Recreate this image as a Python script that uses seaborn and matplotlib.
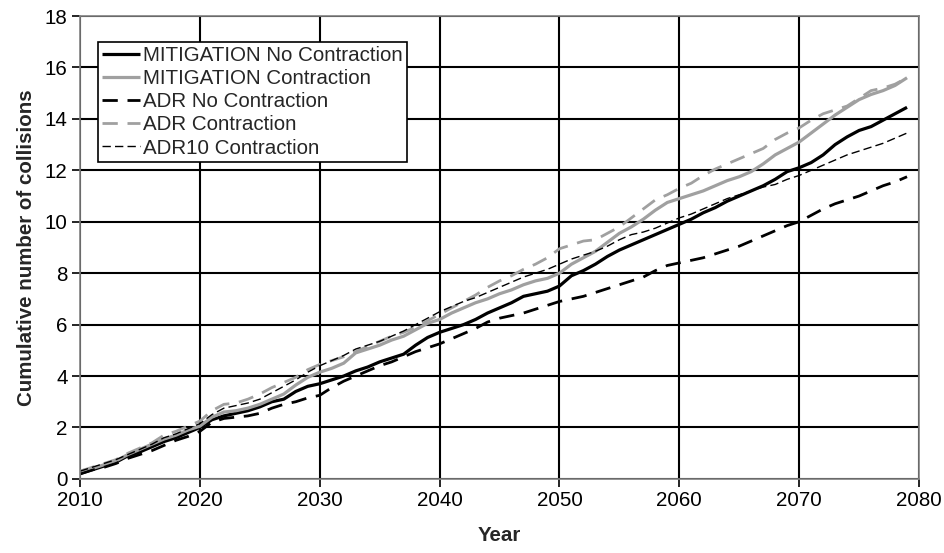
import matplotlib
matplotlib.use("Agg")
import matplotlib.pyplot as plt
import pandas as pd
import seaborn as sns

years = list(range(2010, 2080))

mitigation_no_contraction = [
    0.20, 0.35, 0.50, 0.65, 0.90, 1.05, 1.25, 1.45, 1.60, 1.80,
    2.00, 2.30, 2.45, 2.55, 2.65, 2.80, 3.00, 3.10, 3.40, 3.60,
    3.70, 3.85, 4.00, 4.20, 4.35, 4.55, 4.70, 4.85, 5.20, 5.50,
    5.70, 5.85, 6.00, 6.20, 6.45, 6.65, 6.85, 7.10, 7.20, 7.30,
    7.50, 7.90, 8.10, 8.35, 8.65, 8.90, 9.10, 9.30, 9.50, 9.70,
    9.90, 10.10, 10.35, 10.55, 10.80, 11.00, 11.20, 11.40, 11.65, 11.95,
    12.10, 12.30, 12.60, 13.00, 13.30, 13.55, 13.70, 13.95, 14.20, 14.45,
]

mitigation_contraction = [
    0.30, 0.40, 0.55, 0.70, 0.95, 1.15, 1.35, 1.55, 1.70, 1.90,
    2.05, 2.40, 2.60, 2.65, 2.75, 2.90, 3.10, 3.30, 3.65, 3.95,
    4.15, 4.30, 4.50, 4.90, 5.05, 5.20, 5.40, 5.55, 5.80, 6.05,
    6.20, 6.45, 6.65, 6.85, 7.00, 7.20, 7.35, 7.55, 7.70, 7.80,
    8.00, 8.35, 8.60, 8.85, 9.20, 9.55, 9.80, 10.10, 10.45, 10.75,
    10.90, 11.05, 11.20, 11.40, 11.60, 11.75, 11.95, 12.25, 12.60, 12.85,
    13.10, 13.45, 13.80, 14.15, 14.45, 14.75, 14.95, 15.10, 15.30, 15.60,
]

adr_no_contraction = [
    0.20, 0.35, 0.45, 0.60, 0.80, 0.95, 1.10, 1.30, 1.50, 1.65,
    1.85, 2.20, 2.35, 2.40, 2.45, 2.55, 2.75, 2.90, 3.00, 3.15,
    3.25, 3.55, 3.80, 4.00, 4.20, 4.40, 4.55, 4.75, 4.95, 5.10,
    5.25, 5.45, 5.65, 5.85, 6.10, 6.25, 6.35, 6.45, 6.60, 6.75,
    6.90, 7.00, 7.10, 7.25, 7.40, 7.55, 7.70, 7.85, 8.10, 8.30,
    8.40, 8.50, 8.60, 8.75, 8.90, 9.05, 9.25, 9.45, 9.65, 9.85,
    10.00, 10.25, 10.50, 10.70, 10.85, 11.00, 11.20, 11.40, 11.55, 11.75,
]

adr_contraction = [
    0.30, 0.45, 0.60, 0.75, 1.00, 1.20, 1.40, 1.70, 1.85, 2.05,
    2.25, 2.65, 2.90, 2.95, 3.10, 3.30, 3.55, 3.75, 3.95, 4.25,
    4.45, 4.60, 4.75, 4.95, 5.15, 5.35, 5.55, 5.70, 5.90, 6.15,
    6.40, 6.65, 6.90, 7.15, 7.45, 7.70, 7.90, 8.15, 8.35, 8.60,
    8.95, 9.10, 9.25, 9.30, 9.55, 9.80, 10.15, 10.50, 10.85, 11.05,
    11.30, 11.50, 11.80, 12.05, 12.25, 12.45, 12.65, 12.85, 13.20, 13.45,
    13.65, 13.95, 14.20, 14.35, 14.50, 14.80, 15.10, 15.20, 15.35, 15.60,
]

adr10_contraction = [
    0.30, 0.45, 0.60, 0.75, 0.95, 1.15, 1.35, 1.60, 1.75, 1.95,
    2.15, 2.50, 2.75, 2.85, 2.95, 3.10, 3.35, 3.60, 3.85, 4.15,
    4.40, 4.60, 4.80, 5.05, 5.20, 5.35, 5.55, 5.75, 6.00, 6.25,
    6.50, 6.70, 6.90, 7.05, 7.25, 7.45, 7.65, 7.85, 8.00, 8.15,
    8.35, 8.55, 8.70, 8.85, 9.05, 9.30, 9.50, 9.60, 9.75, 9.95,
    10.15, 10.30, 10.50, 10.70, 10.90, 11.05, 11.20, 11.35, 11.45, 11.65,
    11.80, 12.00, 12.20, 12.40, 12.60, 12.75, 12.90, 13.05, 13.25, 13.45,
]

series_names = [
    "MITIGATION No Contraction",
    "MITIGATION Contraction",
    "ADR No Contraction",
    "ADR Contraction",
    "ADR10 Contraction",
]
series_values = [
    mitigation_no_contraction,
    mitigation_contraction,
    adr_no_contraction,
    adr_contraction,
    adr10_contraction,
]

x_ticks = list(range(2010, 2081, 10))
y_ticks = list(range(0, 19, 2))

df = pd.DataFrame(
    [(name, yr, v) for name, vals in zip(series_names, series_values)
     for yr, v in zip(years, vals)],
    columns=["series", "Year", "collisions"],
)

GRAY = "#a0a0a0"
styles = {
    "MITIGATION No Contraction": dict(color="black", lw=2.3, dashes=""),
    "MITIGATION Contraction": dict(color=GRAY, lw=2.3, dashes=""),
    "ADR No Contraction": dict(color="black", lw=2.0, dashes=(5.5, 3.5)),
    "ADR Contraction": dict(color=GRAY, lw=2.0, dashes=(5.5, 3.5)),
    "ADR10 Contraction": dict(color="black", lw=1.0, dashes=(6, 3.0)),
}

FS = 14.8

sns.set_theme(style="white")
plt.rcParams["font.family"] = ["Liberation Sans", "DejaVu Sans"]

fig = plt.figure(figsize=(9.45, 5.53), dpi=100)
ax = fig.add_axes([0.0847, 0.134, 0.8878, 0.837])

for name in series_names:
    st = styles[name]
    sub = df[df["series"] == name]
    sns.lineplot(
        data=sub, x="Year", y="collisions", ax=ax,
        color=st["color"], linewidth=st["lw"], label=name,
        dashes=False, legend=False,
    )
    line = ax.lines[-1]
    if st["dashes"]:
        line.set_dashes(st["dashes"])
    line.set_solid_capstyle("butt")
    line.set_dash_capstyle("butt")
    line.set_solid_joinstyle("round")

ax.set_xlim(2010, 2080)
ax.set_ylim(0, 18)
ax.set_xticks(x_ticks)
ax.set_yticks(y_ticks)
ax.set_xticklabels([str(t) for t in x_ticks])
ax.set_yticklabels([str(t) for t in y_ticks])

ax.set_axisbelow(True)
ax.grid(True, color="black", linewidth=1.5)
for side in ["left", "right", "top", "bottom"]:
    ax.spines[side].set_visible(True)
    ax.spines[side].set_color("#808080")
    ax.spines[side].set_linewidth(1.2)

ax.tick_params(axis="both", which="major", direction="out", length=6,
               width=1.2, color="black", labelsize=FS, labelcolor="black",
               bottom=True, left=True, pad=3)

ax.set_xlabel("Year", fontsize=FS, fontweight="bold", labelpad=11)
ax.set_ylabel("Cumulative number of collisions", fontsize=FS,
              fontweight="bold", labelpad=6)

leg = ax.legend(
    loc="upper left", bbox_to_anchor=(0.0215, 0.944), borderaxespad=0,
    fontsize=FS, frameon=True, fancybox=False, shadow=False,
    edgecolor="black", framealpha=1, handlelength=1.85,
    handletextpad=0.15, labelspacing=0.2, borderpad=0.2,
)
leg.get_frame().set_linewidth(1.2)

fig.savefig("out.png", dpi=100)
